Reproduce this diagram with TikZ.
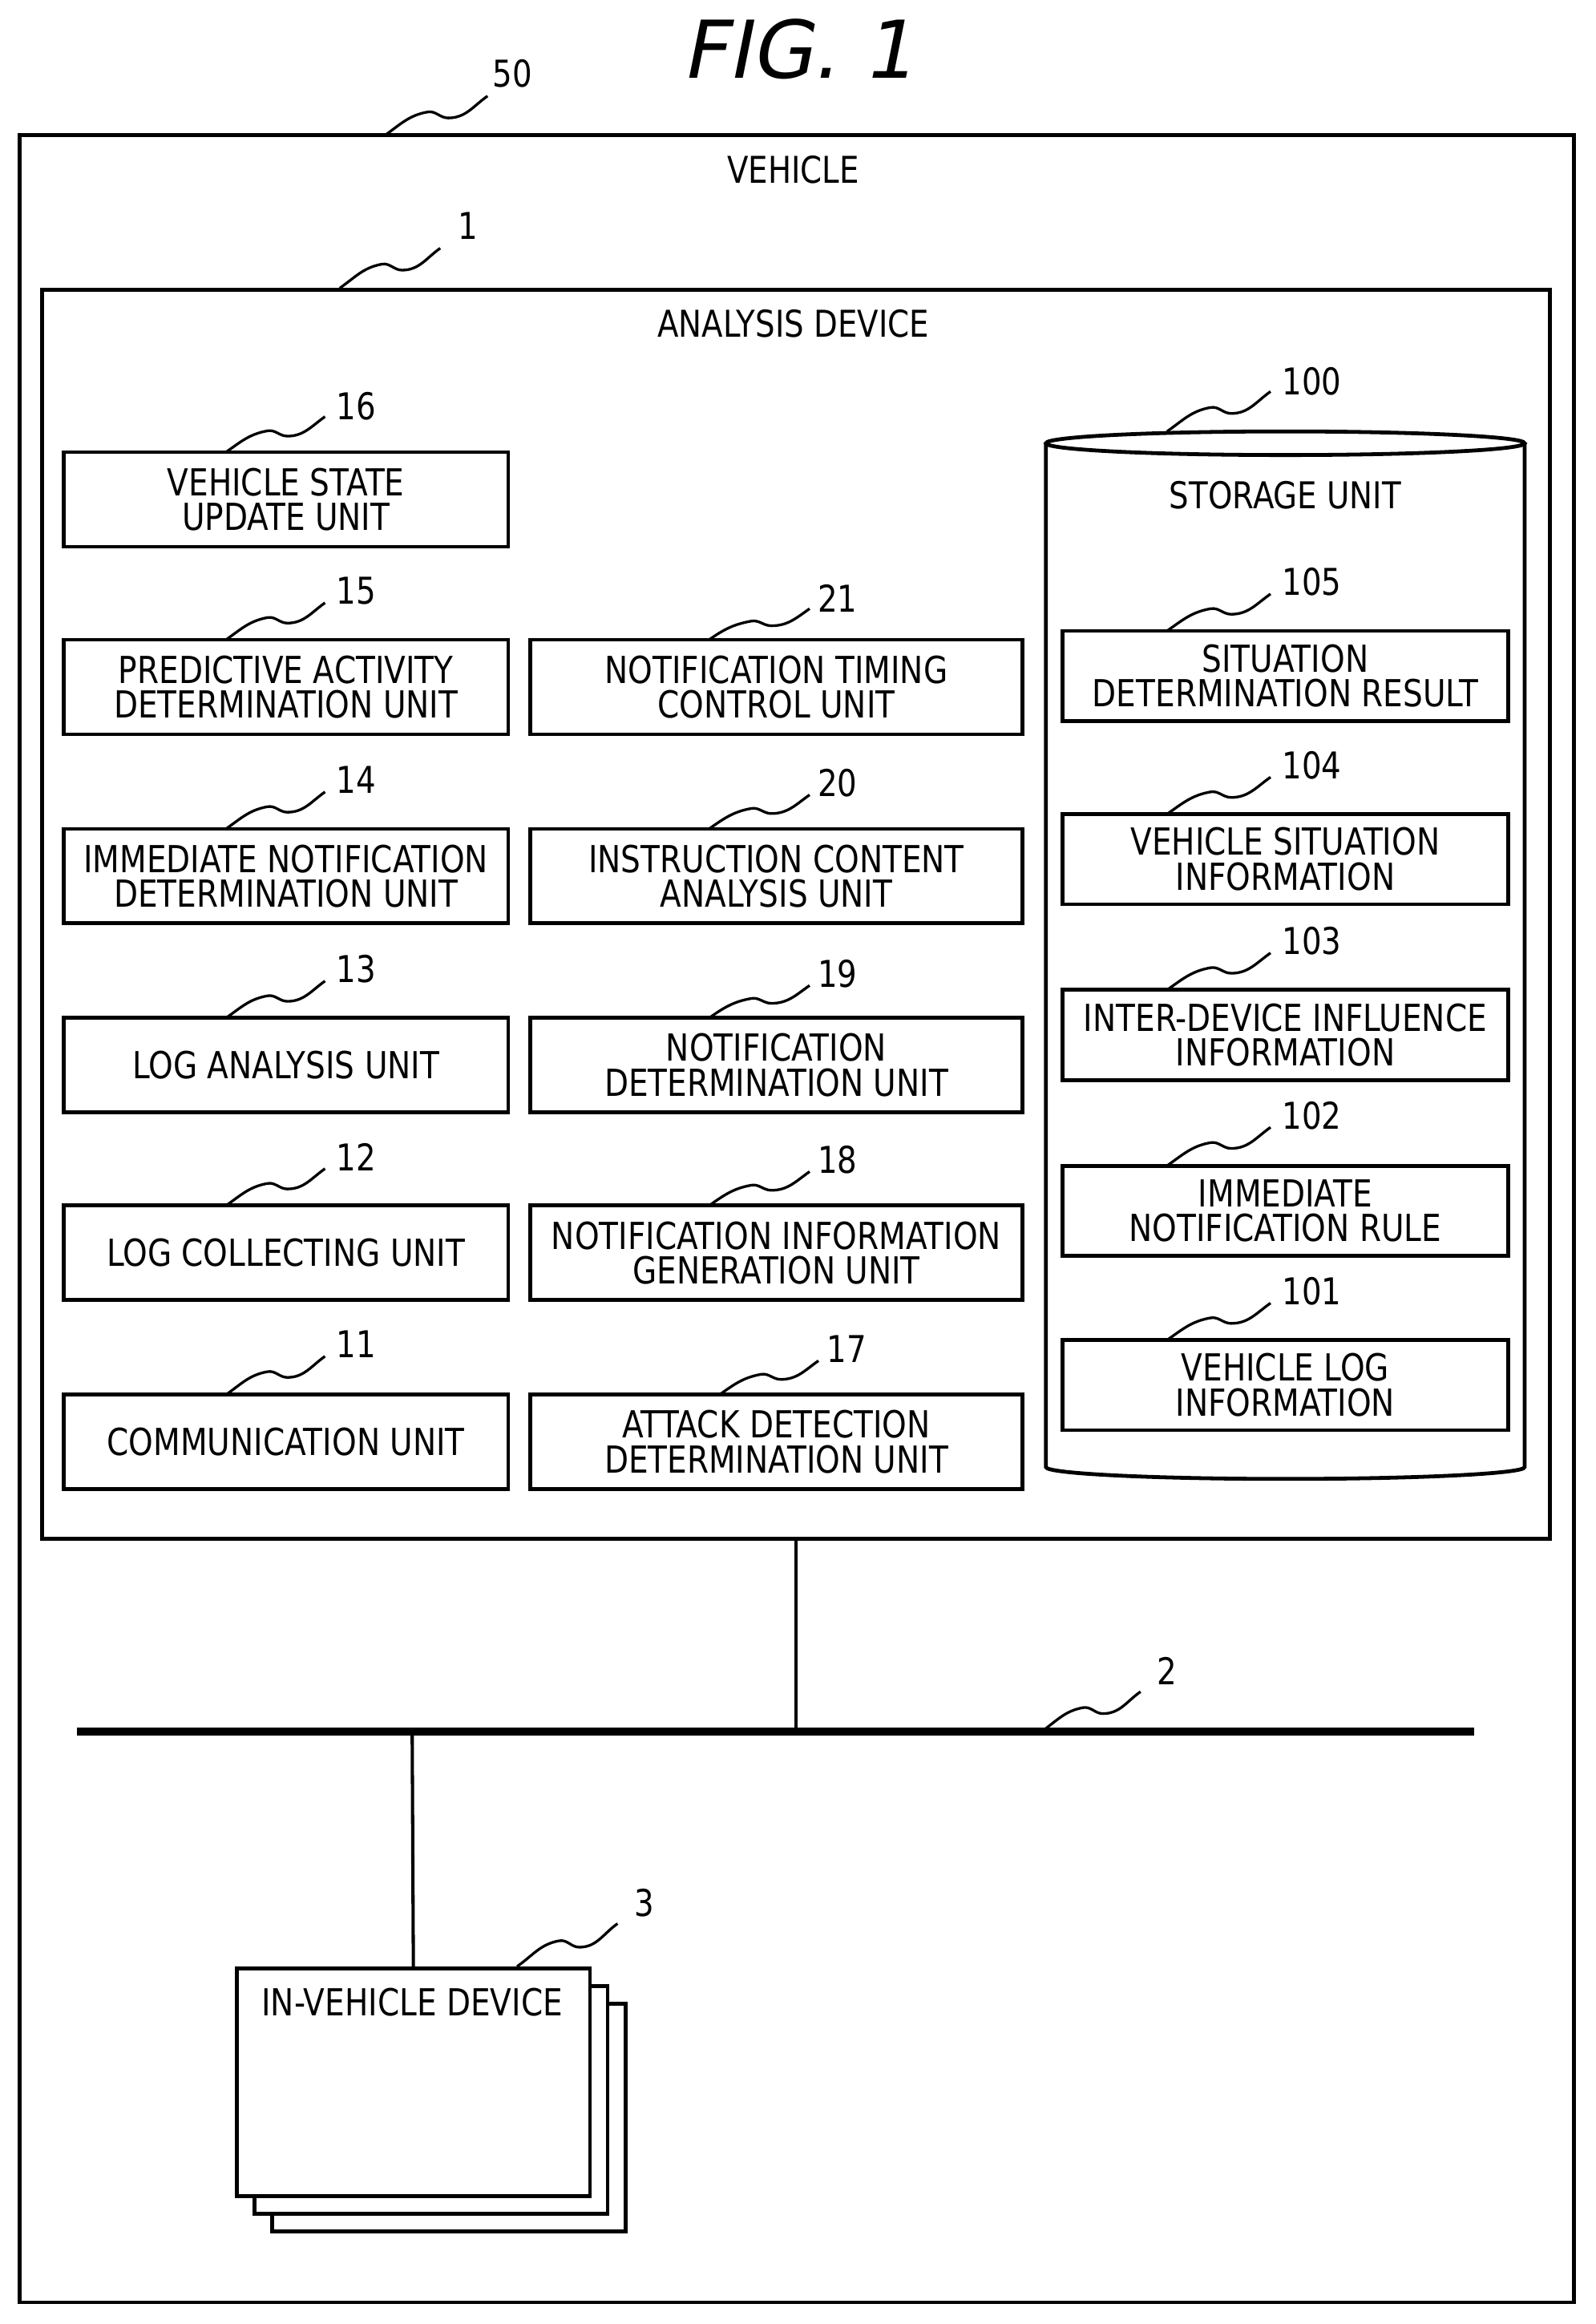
\documentclass[tikz,border=0pt]{standalone}
\usepackage{fontspec}
\setmainfont{DejaVu Sans}[FakeStretch=0.84]
\newfontfamily\titlefont{DejaVu Sans}[FakeSlant=0.2]
\begin{document}
\begin{tikzpicture}[x=0.5pt,y=0.5pt,line width=1.1pt,
  lbl/.style={font=\fontsize{12.5}{12}\selectfont},
  box/.style={draw,line width=1.3pt,align=center,inner sep=0pt,font=\fontsize{12.6}{11.8}\selectfont},
  lbox/.style={box,minimum width=150.5pt,minimum height=32pt},
  mbox/.style={box,minimum width=166.5pt,minimum height=32pt},
  rbox/.style={box,minimum width=151pt,minimum height=30.5pt},
  sq/.style={line width=0.9pt}]
\useasboundingbox (0,0) rectangle (1080,-1573);
\newcommand{\squig}[4]{%
  \pgfmathsetmacro{\dx}{#3-#1}\pgfmathsetmacro{\dy}{#4-#2}%
  \draw[sq] (#1,#2) to[out=35,in=190] ({#1+0.42*\dx},{#2+0.6*\dy}) to[out=10,in=180] ({#1+0.62*\dx},{#2+0.45*\dy}) to[out=0,in=215] (#3,#4);}
\node[font=\titlefont\fontsize{27}{27}\selectfont] (title) at (540,-33) {FIG. 1};
\node[draw,line width=1.3pt,minimum width=526pt,minimum height=733.5pt,anchor=north west,inner sep=0pt] (veh) at (12,-90) {};
\node[lbl] (vehl) at (537,-115) {VEHICLE};
\node[lbl] (n50) at (347,-50) {50}; \squig{260}{-92}{330}{-65}
\node[draw,line width=1.3pt,minimum width=510.5pt,minimum height=422.5pt,anchor=north west,inner sep=0pt] (ad) at (27,-195) {};
\node[lbl] (adl) at (537,-219) {ANALYSIS DEVICE};
\node[lbl] (n1) at (317,-153) {1}; \squig{230}{-195}{298}{-168}
% left column
\node[lbox] (u16) at (193.5,-338) {VEHICLE STATE\\UPDATE UNIT};
\node[lbox] (u15) at (193.5,-465) {PREDICTIVE ACTIVITY\\DETERMINATION UNIT};
\node[lbox] (u14) at (193.5,-593) {IMMEDIATE NOTIFICATION\\DETERMINATION UNIT};
\node[lbox] (u13) at (193.5,-721) {LOG ANALYSIS UNIT};
\node[lbox] (u12) at (193.5,-848) {LOG COLLECTING UNIT};
\node[lbox] (u11) at (193.5,-976) {COMMUNICATION UNIT};
\node[lbl] at (241,-275) {16}; \squig{153}{-306}{220}{-282}
\node[lbl] at (241,-400) {15}; \squig{153}{-433}{220}{-408}
\node[lbl] at (241,-528) {14}; \squig{153}{-561}{220}{-536}
\node[lbl] at (241,-656) {13}; \squig{153}{-689}{220}{-664}
\node[lbl] at (241,-783) {12}; \squig{153}{-816}{220}{-791}
\node[lbl] at (241,-910) {11}; \squig{153}{-944}{220}{-918}
% middle column
\node[mbox] (u21) at (525.5,-465) {NOTIFICATION TIMING\\CONTROL UNIT};
\node[mbox] (u20) at (525.5,-593) {INSTRUCTION CONTENT\\ANALYSIS UNIT};
\node[mbox] (u19) at (525.5,-721) {NOTIFICATION\\DETERMINATION UNIT};
\node[mbox] (u18) at (525.5,-848) {NOTIFICATION INFORMATION\\GENERATION UNIT};
\node[mbox] (u17) at (525.5,-976) {ATTACK DETECTION\\DETERMINATION UNIT};
\node[lbl] at (567,-405) {21}; \squig{480}{-433}{548}{-412}
\node[lbl] at (567,-530) {20}; \squig{480}{-561}{548}{-538}
\node[lbl] at (567,-659) {19}; \squig{480}{-689}{548}{-667}
\node[lbl] at (567,-785) {18}; \squig{480}{-816}{548}{-793}
\node[lbl] at (573,-913) {17}; \squig{487}{-944}{554}{-921}
% storage cylinder
\draw[line width=1.3pt] (708,-300) -- (708,-993) arc[start angle=180,end angle=360,x radius=162,y radius=8] -- (1032,-300);
\draw[line width=1.3pt] (870,-300) ellipse[x radius=162,y radius=8];
\node[lbl] (stl) at (870,-335) {STORAGE UNIT};
\node[lbl] at (888,-258) {100}; \squig{790}{-292}{860}{-265}
\node[rbox] (s105) at (870,-457.5) {SITUATION\\DETERMINATION RESULT};
\node[rbox] (s104) at (870,-581.5) {VEHICLE SITUATION\\INFORMATION};
\node[rbox] (s103) at (870,-700.5) {INTER-DEVICE INFLUENCE\\INFORMATION};
\node[rbox] (s102) at (870,-819.5) {IMMEDIATE\\NOTIFICATION RULE};
\node[rbox] (s101) at (870,-937.5) {VEHICLE LOG\\INFORMATION};
\node[lbl] at (888,-394) {105}; \squig{790}{-427}{860}{-402}
\node[lbl] at (888,-518) {104}; \squig{790}{-551}{860}{-526}
\node[lbl] at (888,-637) {103}; \squig{790}{-670}{860}{-645}
\node[lbl] at (888,-755) {102}; \squig{790}{-789}{860}{-763}
\node[lbl] at (888,-874) {101}; \squig{790}{-907}{860}{-882}
% bus
\coordinate (busL) at (52,-1172); \coordinate (busR) at (998,-1172);
\draw[line width=2.6pt] (busL) -- (busR);
\coordinate (busA) at (539,-1172); \coordinate (busD) at (279,-1172);
\draw (ad.south -| busA) -- (busA);
\node[lbl] at (790,-1131) {2}; \squig{705}{-1172}{772}{-1145}
% devices
\node[draw,fill=white,line width=1.3pt,minimum width=119.5pt,minimum height=77pt,anchor=north west,inner sep=0pt] (dev3) at (183,-1355) {};
\node[draw,fill=white,line width=1.3pt,minimum width=119.5pt,minimum height=77pt,anchor=north west,inner sep=0pt] (dev2) at (171,-1343) {};
\node[draw,fill=white,line width=1.3pt,minimum width=119.5pt,minimum height=77pt,anchor=north west,inner sep=0pt] (dev) at (159,-1331) {};
\node[box,draw=none] (devl) at (279,-1355) {IN-VEHICLE DEVICE};
\draw (busD) -- (dev.north);
\node[lbl] at (436,-1288) {3}; \squig{350}{-1331}{418}{-1302}
\end{tikzpicture}
\end{document}
